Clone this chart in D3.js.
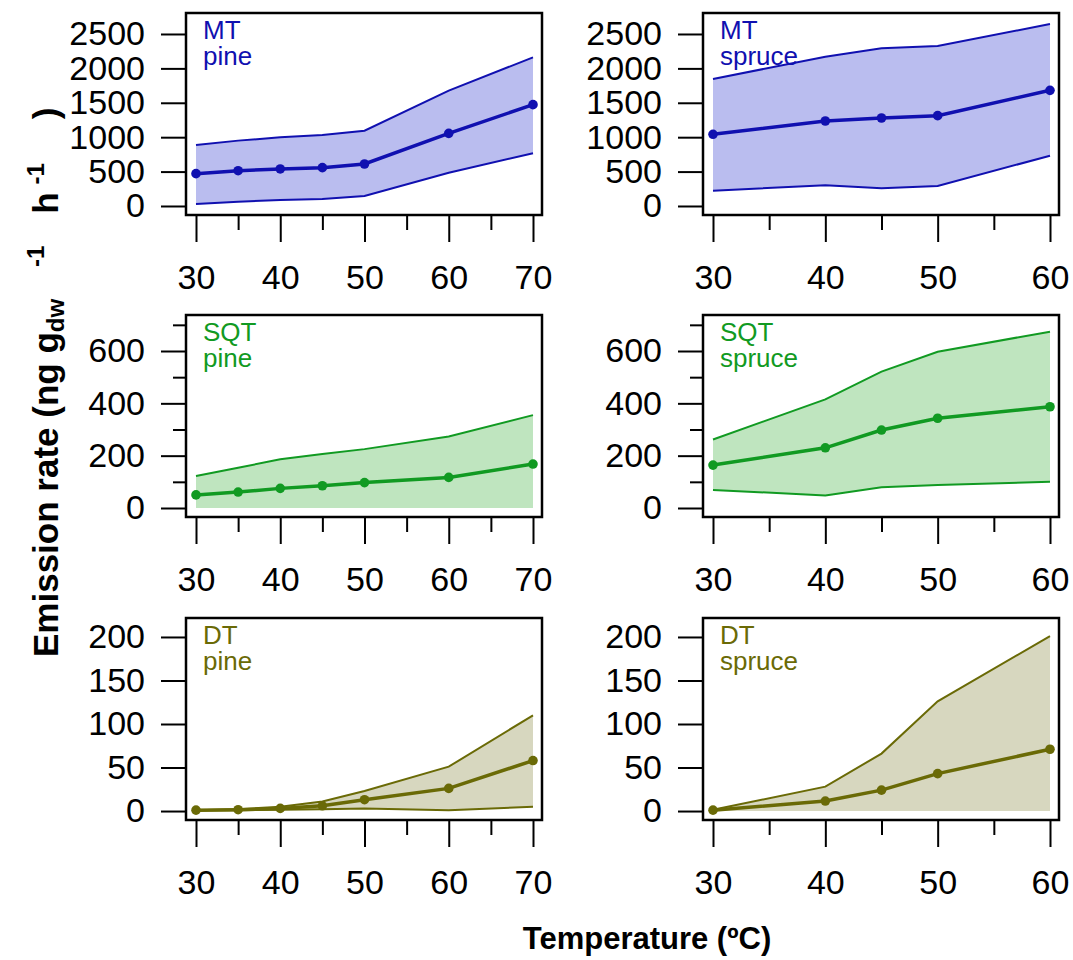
<!DOCTYPE html>
<html>
<head>
<meta charset="utf-8">
<script src="https://cdn.jsdelivr.net/npm/d3@7/dist/d3.min.js"></script>
<style>
    body { margin: 0; background: #fff; }
    svg { display: block; }
    .tick text { font-family: "Liberation Sans", Arial, sans-serif; font-size: 34px; fill: #000; }
    .tick line { stroke: #000; stroke-width: 2px; }
</style>
</head>
<body>
<svg></svg>
<script>
// temperatures (C)
var tempPine = [30, 35, 40, 45, 50, 60, 70];
var tempSpruce = [30, 40, 45, 50, 60];

// MT
var mtPineMean = [470, 513, 538, 557, 610, 1056, 1473];
var mtPineUpper = [887, 950, 998, 1032, 1095, 1676, 2161];
var mtPineLower = [29, 63, 87, 102, 145, 484, 766];
var mtSpruceMean = [1042, 1235, 1279, 1313, 1681];
var mtSpruceUpper = [1846, 2170, 2292, 2326, 2645];
var mtSpruceLower = [222, 300, 257, 291, 731];

// SQT
var sqtPineMean = [50, 61, 75, 85, 97, 117, 168];
var sqtPineUpper = [122, 154, 186, 206, 225, 273, 355];
var sqtPineLower = [0, 0, 0, 0, 0, 0, 0];
var sqtSpruceMean = [164, 230, 298, 343, 387];
var sqtSpruceUpper = [262, 415, 521, 597, 674];
var sqtSpruceLower = [69, 48, 79, 88, 100];

// DT
var dtPineMean = [1, 1.5, 3, 6, 13, 26, 58];
var dtPineUpper = [1, 2, 5, 11, 23, 51, 110];
var dtPineLower = [0.5, 1, 1.5, 2, 3, 1, 5];
var dtSpruceMean = [1, 11.5, 24, 43, 71];
var dtSpruceUpper = [1.5, 28, 66, 126, 201];
var dtSpruceLower = [0, 0, 0, 0, 0];

// tick values
var xMajorPine = [30, 40, 50, 60, 70];
var xMinorPine = [35, 45, 55, 65];
var xMajorSpruce = [30, 40, 50, 60];
var xMinorSpruce = [35, 45, 55];
var yMajorMT = [0, 500, 1000, 1500, 2000, 2500];
var yMajorSQT = [0, 200, 400, 600];
var yMinorSQT = [100, 300, 500, 700];
var yMajorDT = [0, 50, 100, 150, 200];

var compounds = ["MT", "SQT", "DT"];
var species = ["pine", "spruce"];

var font = '"Liberation Sans", Arial, sans-serif';

var svg = d3.select("svg")
    .attr("width", 1073)
    .attr("height", 960);

var colLeft = [186, 703],
    rowTop = [13, 315, 618],
    w = 356,
    h = 202;

// one entry per row: colours, y domain (so that ticks land where the original has them)
var rows = [
    {line: "#1010b0", fill: "#babdef", domain: [-131, 2805], major: yMajorMT, minor: [],
        data: [[mtPineMean, mtPineUpper, mtPineLower], [mtSpruceMean, mtSpruceUpper, mtSpruceLower]]},
    {line: "#119a22", fill: "#bfe5bf", domain: [-34.4, 737.6], major: yMajorSQT, minor: yMinorSQT,
        data: [[sqtPineMean, sqtPineUpper, sqtPineLower], [sqtSpruceMean, sqtSpruceUpper, sqtSpruceLower]]},
    {line: "#6a6a06", fill: "#d7d7bf", domain: [-10.3, 221.8], major: yMajorDT, minor: [],
        data: [[dtPineMean, dtPineUpper, dtPineLower], [dtSpruceMean, dtSpruceUpper, dtSpruceLower]]}
];

function panel(r, c) {
    var row = rows[r];
    var temps = c === 0 ? tempPine : tempSpruce;
    var mean = row.data[c][0], upper = row.data[c][1], lower = row.data[c][2];

    var g = svg.append("g")
        .attr("transform", "translate(" + colLeft[c] + "," + rowTop[r] + ")");

    var x = d3.scaleLinear()
        .domain(c === 0 ? [30, 70] : [30, 60])
        .range([10, w - 9]);
    var y = d3.scaleLinear()
        .domain(row.domain)
        .range([h, 0]);

    var pts = temps.map(function (t, i) {
        return {t: t, m: mean[i], u: upper[i], l: lower[i]};
    });

    g.append("path")
        .datum(pts)
        .attr("fill", row.fill)
        .attr("d", d3.area()
            .x(function (d) { return x(d.t); })
            .y0(function (d) { return y(d.l); })
            .y1(function (d) { return y(d.u); }));

    g.append("path")
        .datum(pts)
        .attr("fill", "none")
        .attr("stroke", row.line)
        .attr("stroke-width", 2)
        .attr("d", d3.line()
            .x(function (d) { return x(d.t); })
            .y(function (d) { return y(d.u); }));

    // lower edge only drawn when it is not sitting on zero
    if (d3.max(lower) > 0) {
        g.append("path")
            .datum(pts)
            .attr("fill", "none")
            .attr("stroke", row.line)
            .attr("stroke-width", 2)
            .attr("d", d3.line()
                .x(function (d) { return x(d.t); })
                .y(function (d) { return y(d.l); }));
    }

    g.append("path")
        .datum(pts)
        .attr("fill", "none")
        .attr("stroke", row.line)
        .attr("stroke-width", 3.5)
        .attr("d", d3.line()
            .x(function (d) { return x(d.t); })
            .y(function (d) { return y(d.m); }));

    g.selectAll(".dot")
        .data(pts)
        .enter().append("circle")
        .attr("class", "dot")
        .attr("cx", function (d) { return x(d.t); })
        .attr("cy", function (d) { return y(d.m); })
        .attr("r", 4.8)
        .attr("fill", row.line);

    // axes
    g.append("g")
        .call(d3.axisLeft(y).tickValues(row.major).tickSize(25).tickPadding(16).tickFormat(d3.format("d")))
        .call(function (a) { a.select(".domain").remove(); });
    if (row.minor.length) {
        g.append("g")
            .call(d3.axisLeft(y).tickValues(row.minor).tickSize(13).tickFormat(""))
            .call(function (a) { a.select(".domain").remove(); });
    }
    g.append("g")
        .attr("transform", "translate(0," + h + ")")
        .call(d3.axisBottom(x).tickValues(c === 0 ? xMajorPine : xMajorSpruce).tickSize(27).tickPadding(23))
        .call(function (a) { a.select(".domain").remove(); });
    g.append("g")
        .attr("transform", "translate(0," + h + ")")
        .call(d3.axisBottom(x).tickValues(c === 0 ? xMinorPine : xMinorSpruce).tickSize(15).tickFormat(""))
        .call(function (a) { a.select(".domain").remove(); });

    g.selectAll(".tick text").attr("font-family", null).attr("font-size", null);

    g.append("rect")
        .attr("width", w)
        .attr("height", h)
        .attr("fill", "none")
        .attr("stroke", "#000")
        .attr("stroke-width", 2.5);

    var lab = g.append("text")
        .attr("x", 17)
        .attr("y", 26)
        .attr("fill", row.line)
        .style("font-family", font)
        .style("font-size", "26px");
    lab.append("tspan").attr("x", 17).text(compounds[r]);
    lab.append("tspan").attr("x", 17).attr("dy", 26).text(species[c]);
}

for (var r = 0; r < 3; r++) {
    for (var c = 0; c < 2; c++) {
        panel(r, c);
    }
}

// axis titles
svg.append("text")
    .attr("x", 647)
    .attr("y", 949)
    .attr("text-anchor", "middle")
    .style("font-family", font)
    .style("font-size", "31px")
    .style("font-weight", "bold")
    .text("Temperature (ºC)");

// y title starts at the bottom and reads upward
var yt = svg.append("text")
    .attr("transform", "translate(58,657) rotate(-90)")
    .attr("text-anchor", "start")
    .style("font-family", font)
    .style("font-size", "35px")
    .style("font-weight", "bold");
yt.append("tspan").text("Emission rate (ng g");
yt.append("tspan").attr("baseline-shift", "-25%").style("font-size", "24px").text("dw");
yt.append("tspan").attr("baseline-shift", "60%").style("font-size", "24px").attr("dx", 32).text("-1");
yt.append("tspan").attr("dx", 22).text(" h");
yt.append("tspan").attr("baseline-shift", "60%").style("font-size", "24px").attr("dx", 8).text("-1");
yt.append("tspan").attr("dx", 34).text(" )");
</script>
</body>
</html>
